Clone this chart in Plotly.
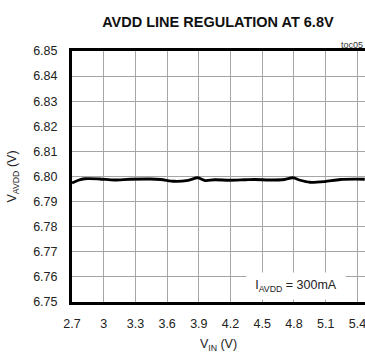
import plotly.graph_objects as go

vin = [2.70, 2.76, 2.82, 2.96, 3.10, 3.25, 3.44, 3.54, 3.67, 3.80, 3.89, 3.96,
       4.05, 4.19, 4.34, 4.43, 4.57, 4.71, 4.79, 4.86, 4.95, 5.09, 5.24, 5.47]
vavdd = [6.7974, 6.7985, 6.7991, 6.7990, 6.7986, 6.7989, 6.7990, 6.7988, 6.7981,
         6.7985, 6.7995, 6.7984, 6.7987, 6.7985, 6.7987, 6.7988, 6.7986, 6.7988,
         6.7995, 6.7985, 6.7977, 6.7980, 6.7988, 6.7989]

x_ticks = [2.7, 3.0, 3.3, 3.6, 3.9, 4.2, 4.5, 4.8, 5.1, 5.4]
x_ticklabels = ["2.7", "3", "3.3", "3.6", "3.9", "4.2", "4.5", "4.8", "5.1", "5.4"]
y_ticks = [6.75, 6.76, 6.77, 6.78, 6.79, 6.80, 6.81, 6.82, 6.83, 6.84, 6.85]
y_ticklabels = ["6.75", "6.76", "6.77", "6.78", "6.79", "6.80", "6.81", "6.82", "6.83", "6.84", "6.85"]

FONT = "Liberation Sans, Arial, sans-serif"

fig = go.Figure()
fig.add_trace(go.Scatter(x=vin, y=vavdd, mode="lines",
                         line=dict(color="black", width=2.8, shape="spline", smoothing=0.8),
                         showlegend=False, hoverinfo="skip"))

fig.update_layout(
    width=365, height=353,
    margin=dict(l=72, r=0, t=51, b=51),
    paper_bgcolor="white", plot_bgcolor="white",
    font=dict(family=FONT, size=12.5, color="#222"),
    title=dict(text="<b>AVDD LINE REGULATION AT 6.8V</b>", x=0.597, xanchor="center",
               y=1 - 22 / 353, yanchor="middle", font=dict(size=14.5, color="#111")),
    xaxis=dict(range=[2.7, 5.472], tickvals=x_ticks, ticktext=x_ticklabels,
               showgrid=True, gridcolor="#a6a6a6", gridwidth=1,
               showline=True, linecolor="black", linewidth=3, mirror=True,
               ticks="", ticklabelstandoff=8, ticklabeloverflow="allow", zeroline=False,
               title=dict(text="V<sub>IN</sub> (V)", standoff=12, font=dict(size=12.5))),
    yaxis=dict(range=[6.75, 6.85], tickvals=y_ticks, ticktext=y_ticklabels,
               showgrid=True, gridcolor="#a6a6a6", gridwidth=1,
               showline=True, linecolor="black", linewidth=3,
               ticks="", ticklabelstandoff=9, zeroline=False,
               title=dict(text="V<sub>AVDD</sub> (V)", standoff=14, font=dict(size=12.5))),
    annotations=[
        dict(text="I<sub>AVDD</sub> = 300mA", xref="x", yref="y", x=4.82, y=6.7564,
             width=94, height=22, borderpad=2,
             showarrow=False, bgcolor="white", font=dict(size=12.5, color="#222")),
        dict(text="toc05", xref="paper", yref="paper", x=1, xanchor="right",
             y=1 + 6 / 251, yanchor="middle", showarrow=False, font=dict(size=9, color="#333")),
    ],
)

fig.write_html("out.html")
